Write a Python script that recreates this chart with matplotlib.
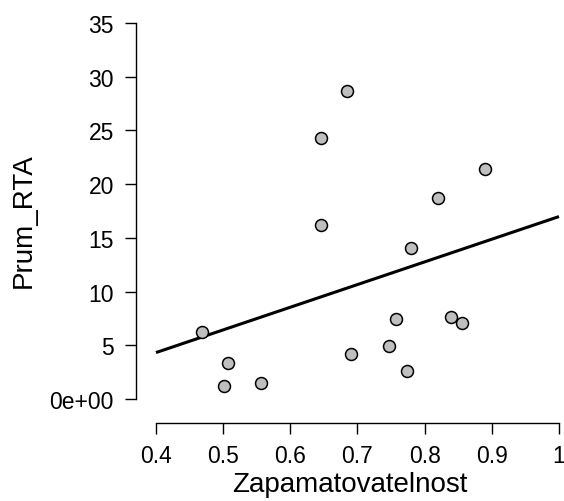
"""Scatter of Prum_RTA against Zapamatovatelnost with a least-squares line."""

import matplotlib

matplotlib.use("Agg")
import matplotlib.pyplot as plt  # noqa: E402
import numpy as np  # noqa: E402

zapamatovatelnost = [0.685, 0.646, 0.890, 0.820, 0.646, 0.780, 0.757, 0.839,
                     0.856, 0.468, 0.747, 0.690, 0.507, 0.773, 0.557, 0.501]
prum_rta = [28.65, 24.33, 21.42, 18.75, 16.20, 14.09, 7.48, 7.67,
            7.05, 6.21, 4.97, 4.22, 3.38, 2.58, 1.46, 1.18]

x_ticks = [0.4, 0.5, 0.6, 0.7, 0.8, 0.9, 1.0]
x_tick_labels = ["0.4", "0.5", "0.6", "0.7", "0.8", "0.9", "1"]
y_ticks = [0, 5, 10, 15, 20, 25, 30, 35]
y_tick_labels = ["0e+00", "5", "10", "15", "20", "25", "30", "35"]

plt.rcParams["font.family"] = ["Liberation Sans", "DejaVu Sans"]

W, H = 564, 502
fig = plt.figure(figsize=(W / 100, H / 100), dpi=100)
# axes box in pixels: left spine at x=136, bottom spine at y=424
left, right, top, bottom = 136, 564, 18, 424
ax = fig.add_axes([left / W, 1 - bottom / H, (right - left) / W, (bottom - top) / H])

# pixel scale: 0.1 on x = 67.2 px starting at 156; 1 unit on y = 10.74 px, 0 at 400
px_x = 672.0
px_y = 10.74
ax.set_xlim(0.4 - (156 - left) / px_x, 1.0 + (right - 559) / px_x)
ax.set_ylim(-(bottom - 400) / px_y, 35 + (24 - top) / px_y)

x = np.array(zapamatovatelnost)
y = np.array(prum_rta)
slope, intercept = np.polyfit(x, y, 1)
line_x = np.array([0.4, 1.0])
ax.plot(line_x, intercept + slope * line_x, color="black", lw=2.2,
        solid_capstyle="butt", zorder=2)
ax.scatter(x, y, s=74, facecolor="#bfbfbf", edgecolor="black", linewidths=1.1,
           zorder=3, clip_on=False)

for side in ("top", "right"):
    ax.spines[side].set_visible(False)
ax.spines["left"].set_bounds(0, 35)
ax.spines["bottom"].set_bounds(0.4, 1.0)
for side in ("left", "bottom"):
    ax.spines[side].set_linewidth(1.0)

ax.set_xticks(x_ticks)
ax.set_xticklabels(x_tick_labels)
ax.set_yticks(y_ticks)
ax.set_yticklabels(y_tick_labels)
ax.tick_params(axis="both", length=8, width=1.0, labelsize=16.5, color="black")
ax.tick_params(axis="x", pad=7)
ax.tick_params(axis="y", pad=8)

ax.set_xlabel("Zapamatovatelnost", fontsize=20, labelpad=3)
ax.set_ylabel("Prum_RTA", fontsize=20, labelpad=9)

fig.savefig("out.png", dpi=100)
